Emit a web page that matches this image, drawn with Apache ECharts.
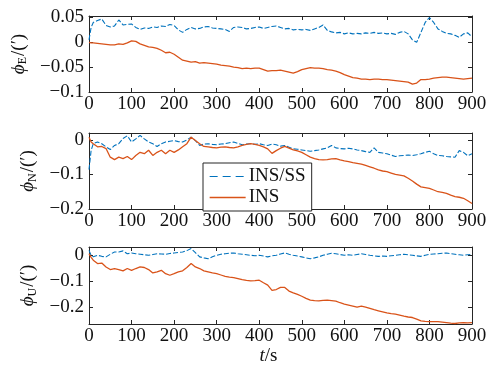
<!DOCTYPE html>
<html>
<head>
<meta charset="utf-8">
<script src="https://cdn.jsdelivr.net/npm/echarts@6/dist/echarts.min.js"></script>
<style>
  html, body { margin: 0; padding: 0; background: #fff; }
  #chart { width: 492px; height: 366px; }
</style>
</head>
<body>
<div id="chart"></div>
<script>
// time axis (s)
const timeSec = [
  0, 5, 10, 20, 30, 40, 50, 60, 70, 80,
  90, 100, 110, 120, 130, 140, 150, 160, 170, 180,
  190, 200, 210, 220, 230, 240, 250, 260, 270, 280,
  290, 300, 310, 320, 330, 340, 350, 360, 370, 380,
  390, 400, 410, 420, 430, 440, 450, 460, 470, 480,
  490, 500, 510, 520, 530, 540, 550, 560, 570, 580,
  590, 600, 610, 620, 630, 640, 650, 660, 670, 680,
  690, 700, 710, 720, 730, 740, 750, 760, 770, 780,
  790, 800, 810, 820, 830, 840, 850, 860, 870, 880,
  890, 900
]

// φE
const phiE_insss = [
  0.005, 0.03, 0.04, 0.044, 0.047, 0.034, 0.031, 0.033, 0.045, 0.035,
  0.036, 0.037, 0.03, 0.026, 0.029, 0.028, 0.031, 0.03, 0.033, 0.032,
  0.036, 0.034, 0.025, 0.02, 0.026, 0.03, 0.027, 0.028, 0.031, 0.032,
  0.029, 0.028, 0.027, 0.026, 0.022, 0.03, 0.031, 0.03, 0.027, 0.028,
  0.03, 0.031, 0.028, 0.03, 0.032, 0.033, 0.03, 0.027, 0.028, 0.025,
  0.026, 0.025, 0.026, 0.024, 0.027, 0.03, 0.035, 0.024, 0.021, 0.019,
  0.02, 0.017, 0.019, 0.017, 0.018, 0.017, 0.019, 0.018, 0.02, 0.018,
  0.019, 0.017, 0.018, 0.016, 0.02, 0.022, 0.017, 0.005, 0.0, 0.02,
  0.04, 0.05, 0.04, 0.027, 0.022, 0.018, 0.017, 0.014, 0.01, 0.017,
  0.019, 0.011
]
const phiE_ins = [
  0, -0.001, -0.001, -0.002, -0.003, -0.004, -0.005, -0.005, -0.003, -0.004,
  -0.001, 0.003, 0.002, -0.003, -0.006, -0.009, -0.01, -0.012, -0.016, -0.021,
  -0.02, -0.024, -0.03, -0.036, -0.038, -0.04, -0.039, -0.042, -0.041, -0.042,
  -0.043, -0.044, -0.046, -0.047, -0.048, -0.05, -0.051, -0.053, -0.052, -0.053,
  -0.052, -0.052, -0.055, -0.058, -0.057, -0.057, -0.056, -0.058, -0.06, -0.062,
  -0.059, -0.055, -0.053, -0.051, -0.052, -0.052, -0.053, -0.055, -0.056, -0.058,
  -0.061, -0.065, -0.068, -0.071, -0.072, -0.074, -0.074, -0.075, -0.074, -0.074,
  -0.075, -0.075, -0.076, -0.077, -0.078, -0.079, -0.08, -0.084, -0.082, -0.075,
  -0.075, -0.074, -0.072, -0.071, -0.07, -0.07, -0.071, -0.072, -0.073, -0.074,
  -0.073, -0.072
]

// φN
const phiN_insss = [
  -0.086, -0.03, -0.011, -0.006, -0.011, -0.02, -0.028, -0.016, -0.011, 0.004,
  0.012, -0.006, 0.003, 0.013, 0.003, -0.006, -0.011, -0.019, -0.011, -0.006,
  -0.004, -0.002, -0.005, -0.006, 0.0, 0.008, -0.002, -0.016, -0.012, -0.011,
  -0.013, -0.014, -0.012, -0.011, -0.008, -0.006, -0.01, -0.014, -0.012, -0.011,
  -0.013, -0.011, -0.014, -0.016, -0.012, -0.014, -0.018, -0.016, -0.021, -0.026,
  -0.027, -0.029, -0.031, -0.033, -0.031, -0.029, -0.026, -0.023, -0.016, -0.023,
  -0.025, -0.026, -0.024, -0.026, -0.029, -0.031, -0.034, -0.036, -0.023, -0.036,
  -0.038, -0.04, -0.044, -0.048, -0.046, -0.045, -0.044, -0.045, -0.043, -0.04,
  -0.036, -0.033, -0.04, -0.045, -0.046, -0.048, -0.049, -0.05, -0.031, -0.036,
  -0.046, -0.04
]
const phiN_ins = [
  0.008, -0.006, -0.011, -0.02, -0.019, -0.025, -0.05, -0.057, -0.05, -0.054,
  -0.048, -0.057, -0.045, -0.036, -0.04, -0.03, -0.045, -0.036, -0.03, -0.04,
  -0.03, -0.036, -0.029, -0.02, -0.011, 0.008, -0.002, -0.011, -0.019, -0.02,
  -0.022, -0.023, -0.021, -0.02, -0.022, -0.023, -0.02, -0.016, -0.013, -0.011,
  -0.013, -0.016, -0.02, -0.026, -0.039, -0.031, -0.024, -0.019, -0.024, -0.029,
  -0.032, -0.036, -0.043, -0.05, -0.054, -0.057, -0.058, -0.057, -0.055, -0.054,
  -0.058, -0.061, -0.063, -0.066, -0.068, -0.07, -0.074, -0.078, -0.082, -0.087,
  -0.09, -0.092, -0.096, -0.1, -0.102, -0.104, -0.111, -0.119, -0.128, -0.136,
  -0.138, -0.14, -0.145, -0.15, -0.152, -0.155, -0.16, -0.164, -0.166, -0.169,
  -0.176, -0.184
]

// φU
const phiU_insss = [
  0.019, 0.0, -0.006, 0.0, -0.004, -0.006, 0.004, 0.013, 0.013, 0.017,
  0.006, 0.009, 0.006, 0.004, 0.002, 0.0, 0.003, 0.006, 0.005, 0.004,
  0.007, 0.009, 0.011, 0.013, 0.018, 0.026, 0.01, -0.006, -0.01, -0.013,
  -0.006, 0.0, 0.004, 0.006, 0.008, 0.009, 0.006, 0.004, 0.002, 0.0,
  -0.002, 0.0, -0.003, -0.006, -0.002, 0.0, 0.005, 0.009, 0.004, 0.0,
  -0.003, -0.006, -0.01, -0.013, -0.01, -0.006, 0.0, 0.004, 0.008, 0.006,
  0.003, 0.0, 0.002, 0.0, 0.003, 0.006, 0.003, 0.0, -0.002, -0.004,
  -0.003, -0.004, -0.002, 0.0, 0.002, 0.004, 0.002, 0.0, -0.002, -0.004,
  0.0, 0.004, 0.005, 0.006, 0.008, 0.009, 0.006, 0.004, 0.002, 0.0,
  0.002, 0.004
]
const phiU_ins = [
  0.006, -0.008, -0.019, -0.032, -0.03, -0.045, -0.055, -0.051, -0.055, -0.06,
  -0.051, -0.058, -0.051, -0.045, -0.047, -0.055, -0.068, -0.064, -0.058, -0.071,
  -0.077, -0.071, -0.064, -0.06, -0.047, -0.032, -0.045, -0.051, -0.06, -0.064,
  -0.068, -0.071, -0.076, -0.081, -0.084, -0.086, -0.09, -0.094, -0.097, -0.099,
  -0.098, -0.096, -0.106, -0.115, -0.135, -0.132, -0.124, -0.124, -0.138, -0.145,
  -0.151, -0.158, -0.166, -0.173, -0.175, -0.176, -0.174, -0.173, -0.175, -0.177,
  -0.183, -0.188, -0.192, -0.196, -0.2, -0.196, -0.2, -0.205, -0.21, -0.214,
  -0.218, -0.222, -0.225, -0.227, -0.231, -0.235, -0.238, -0.24, -0.246, -0.253,
  -0.255, -0.256, -0.256, -0.256, -0.258, -0.26, -0.262, -0.263, -0.261, -0.26,
  -0.261, -0.26
]

// y tick labels per panel
const yTicksE = [-0.1, -0.05, 0, 0.05]
const yTicksN = [-0.2, -0.1, 0]
const yTicksU = [-0.2, -0.1, 0]

const FONT = "'Liberation Serif', 'Times New Roman', serif"
const INK = '#262626'
const BLUE = '#0072BD'
const RED = '#D95319'

const pairs = vals => timeSec.map((t, i) => [t, vals[i]])
const fmt = v => (v === 0 ? '0' : String(v).replace('-', '\u2212'))

// 三个子图的位置和范围
const panels = [
  { top: 16, height: 76, min: -0.1, max: 0.053, ticks: yTicksE, sub: 'E', insss: phiE_insss, ins: phiE_ins },
  { top: 133, height: 76, min: -0.2, max: 0.02, ticks: yTicksN, sub: 'N', insss: phiN_insss, ins: phiN_ins },
  { top: 247, height: 77, min: -0.265, max: 0.032, ticks: yTicksU, sub: 'U', insss: phiU_insss, ins: phiU_ins },
]

const grid = panels.map(p => ({
  left: 89, right: 20, top: p.top, height: p.height,
  containLabel: false, outerBoundsMode: 'none',
}))

const boxLine = { onZero: false, lineStyle: { color: INK, width: 1 } }
const tick = { inside: true, length: 4, lineStyle: { color: INK } }

const xAxis = []
const yAxis = []
const series = []

panels.forEach((p, k) => {
  const last = k === panels.length - 1
  xAxis.push({
    type: 'value', gridIndex: k, min: 0, max: 900, interval: 100, position: 'bottom',
    axisLine: boxLine,
    axisTick: tick,
    axisLabel: { color: '#111', fontFamily: FONT, fontSize: 19, margin: 3 },
    splitLine: { show: false },
    name: last ? '{i|t}{r|/s}' : '',
    nameLocation: 'middle', nameGap: 16,
    nameTextStyle: {
      padding: [0, 24, 0, 0],
      rich: {
        i: { fontFamily: FONT, fontSize: 19, fontStyle: 'italic', color: '#111' },
        r: { fontFamily: FONT, fontSize: 19, color: '#111' },
      },
    },
  })
  xAxis.push({
    type: 'value', gridIndex: k, min: 0, max: 900, interval: 100, position: 'top',
    axisLine: boxLine,
    axisTick: tick,
    axisLabel: { show: false },
    splitLine: { show: false },
  })
  yAxis.push({
    type: 'value', gridIndex: k, min: p.min, max: p.max, position: 'left',
    axisLine: { show: true, ...boxLine },
    axisTick: { ...tick, customValues: p.ticks },
    axisLabel: { color: '#111', fontFamily: FONT, fontSize: 19, margin: 5, customValues: p.ticks, formatter: fmt },
    splitLine: { show: false },
    name: '{g|\u03d5}{s|' + p.sub + '}{n|/(\u2032)}',
    nameLocation: 'middle', nameRotate: 90, nameGap: 50,
    nameTextStyle: {
      rich: {
        g: { fontFamily: FONT, fontSize: 19, fontStyle: 'italic', color: '#111' },
        s: { fontFamily: FONT, fontSize: 12, color: '#111', padding: [9, 1, 0, 0] },
        n: { fontFamily: FONT, fontSize: 19, color: '#111' },
      },
    },
  })
  yAxis.push({
    type: 'value', gridIndex: k, min: p.min, max: p.max, position: 'right',
    axisLine: { show: true, ...boxLine },
    axisTick: { ...tick, customValues: p.ticks },
    axisLabel: { show: false },
    splitLine: { show: false },
  })

  series.push({
    name: 'INS/SS', type: 'line', data: pairs(p.insss),
    xAxisIndex: 2 * k, yAxisIndex: 2 * k,
    symbol: 'none', lineStyle: { color: BLUE, width: 1.1, type: [5, 2] },
    itemStyle: { color: BLUE }, z: 2,
  })
  series.push({
    name: 'INS', type: 'line', data: pairs(p.ins),
    xAxisIndex: 2 * k, yAxisIndex: 2 * k,
    symbol: 'none', lineStyle: { color: RED, width: 1.3 },
    itemStyle: { color: RED }, z: 3,
  })
})

const chart = echarts.init(document.getElementById('chart'), null, { renderer: 'canvas' })
chart.setOption({
  backgroundColor: '#fff',
  animation: false,
  legend: {
    data: [
      { name: 'INS/SS', lineStyle: { type: [8, 5], width: 1.2 } },
      { name: 'INS', lineStyle: { width: 1.3 } },
    ],
    orient: 'vertical',
    left: 203, top: 163,
    padding: [4, 6, 4, 6],
    itemGap: 2,
    itemWidth: 36, itemHeight: 14,
    itemStyle: { opacity: 0 },
    backgroundColor: '#fff',
    borderColor: INK, borderWidth: 1,
    textStyle: { fontFamily: FONT, fontSize: 19, color: '#111', padding: [0, 0, 0, -2] },
  },
  grid, xAxis, yAxis, series,
})
</script>
</body>
</html>
